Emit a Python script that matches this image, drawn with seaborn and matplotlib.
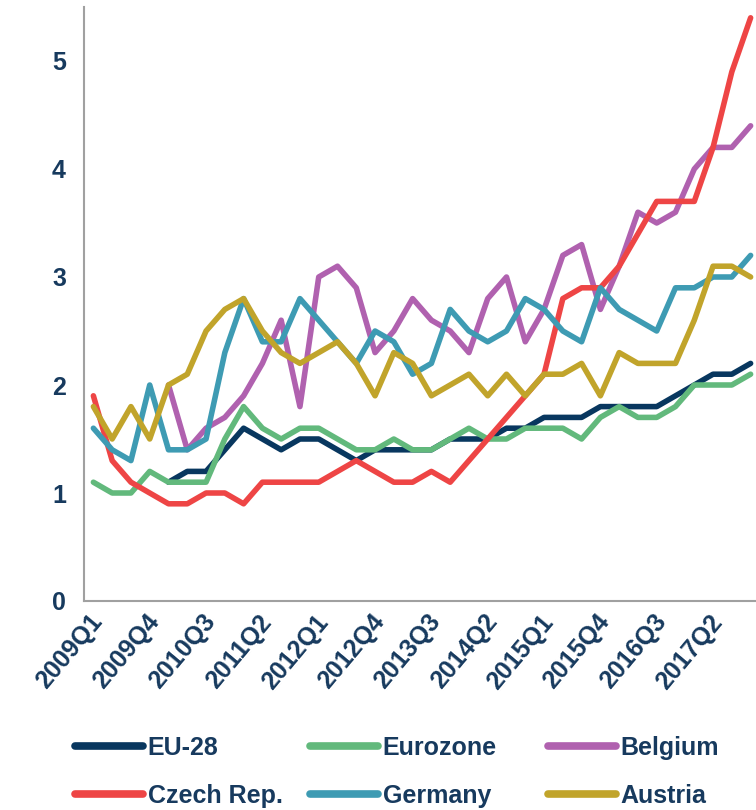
import matplotlib.pyplot as plt
import seaborn as sns
import numpy as np
import pandas as pd
from matplotlib.ticker import FixedLocator
import matplotlib.transforms as mtransforms

# quarters 2009Q1 .. 2017Q4
quarters = [f"{y}Q{q}" for y in range(2009, 2018) for q in range(1, 5)]

eu28 = [1.1, 1.2, 1.2, 1.4, 1.6, 1.5, 1.4, 1.5, 1.5, 1.4, 1.3, 1.4, 1.4, 1.4, 1.4, 1.5,
        1.5, 1.5, 1.6, 1.6, 1.7, 1.7, 1.7, 1.8, 1.8, 1.8, 1.8, 1.9, 2.0, 2.1, 2.1, 2.2]
eurozone = [1.1, 1.0, 1.0, 1.2, 1.1, 1.1, 1.1, 1.5, 1.8, 1.6, 1.5, 1.6, 1.6, 1.5, 1.4, 1.4,
            1.5, 1.4, 1.4, 1.5, 1.6, 1.5, 1.5, 1.6, 1.6, 1.6, 1.5, 1.7, 1.8, 1.7, 1.7, 1.8,
            2.0, 2.0, 2.0, 2.1]
belgium = [2.0, 1.4, 1.6, 1.7, 1.9, 2.2, 2.6, 1.8, 3.0, 3.1, 2.9, 2.3, 2.5, 2.8, 2.6, 2.5,
           2.3, 2.8, 3.0, 2.4, 2.7, 3.2, 3.3, 2.7, 3.1, 3.6, 3.5, 3.6, 4.0, 4.2, 4.2, 4.4]
czech = [1.9, 1.3, 1.1, 1.0, 0.9, 0.9, 1.0, 1.0, 0.9, 1.1, 1.1, 1.1, 1.1, 1.2, 1.3, 1.2,
         1.1, 1.1, 1.2, 1.1, 1.3, 1.5, 1.7, 1.9, 2.1, 2.8, 2.9, 2.9, 3.1, 3.4, 3.7, 3.7,
         3.7, 4.2, 4.9, 5.4]
germany = [1.6, 1.4, 1.3, 2.0, 1.4, 1.4, 1.5, 2.3, 2.8, 2.4, 2.4, 2.8, 2.6, 2.4, 2.2, 2.5,
           2.4, 2.1, 2.2, 2.7, 2.5, 2.4, 2.5, 2.8, 2.7, 2.5, 2.4, 2.9, 2.7, 2.6, 2.5, 2.9,
           2.9, 3.0, 3.0, 3.2]
austria = [1.8, 1.5, 1.8, 1.5, 2.0, 2.1, 2.5, 2.7, 2.8, 2.5, 2.3, 2.2, 2.3, 2.4, 2.2, 1.9,
           2.3, 2.2, 1.9, 2.0, 2.1, 1.9, 2.1, 1.9, 2.1, 2.1, 2.2, 1.9, 2.3, 2.2, 2.2, 2.2,
           2.6, 3.1, 3.1, 3.0]

series = {
    "EU-28": eu28,
    "Eurozone": eurozone,
    "Belgium": belgium,
    "Czech Rep.": czech,
    "Germany": germany,
    "Austria": austria,
}
colors = ["#08375F", "#62B97C", "#B061AF", "#EE4545", "#3E9BB3", "#C1A42B"]

n = len(quarters)
rows = []
for name, vals in series.items():
    start = n - len(vals)  # shorter series begin later
    for i, v in enumerate(vals):
        rows.append({"idx": start + i, "quarter": quarters[start + i], "value": v, "series": name})
df = pd.DataFrame(rows)

text_col = "#173A5E"
axis_col = "#A0A0A0"
fs = 18

sns.set_style("white")
plt.rcParams["font.family"] = ["Liberation Sans", "DejaVu Sans"]

fig = plt.figure(figsize=(7.56, 8.1), dpi=100)
ax = fig.add_axes([84 / 756, 1 - 601 / 810, 676 / 756, 594 / 810])

sns.lineplot(data=df, x="idx", y="value", hue="series", hue_order=list(series.keys()),
             palette=colors, linewidth=4, estimator=None, sort=False, ax=ax,
             solid_capstyle="round", solid_joinstyle="round")

ax.set_xlim(-0.5, n - 0.5)
ax.set_ylim(0, 5.5)
ax.set_xlabel("")
ax.set_ylabel("")

for s in ["top", "right"]:
    ax.spines[s].set_visible(False)
for s in ["left", "bottom"]:
    ax.spines[s].set_color(axis_col)
    ax.spines[s].set_linewidth(1.5)

ax.set_yticks(range(0, 6))
ax.tick_params(axis="y", length=8, width=1.3, color=axis_col, pad=5,
               labelsize=fs, labelcolor=text_col)

label_pos = list(range(0, n, 3))
ax.set_xticks(label_pos)
ax.set_xticklabels([quarters[i] for i in label_pos])
ax.xaxis.set_minor_locator(FixedLocator(np.arange(-0.5, n, 1.0)))
ax.tick_params(axis="x", which="major", length=0, pad=12, labelsize=fs, labelcolor=text_col)
ax.tick_params(axis="x", which="minor", length=7, width=1.3, color=axis_col)

offset = mtransforms.ScaledTranslation(5 / 100, 0, fig.dpi_scale_trans)
for lab in ax.get_xticklabels():
    lab.set_rotation(50)
    lab.set_ha("right")
    lab.set_va("center")
    lab.set_rotation_mode("anchor")
    lab.set_fontweight("bold")
    lab.set_transform(lab.get_transform() + offset)
for lab in ax.get_yticklabels():
    lab.set_fontweight("bold")

# legend laid out row-wise in three fixed columns
handles, labels = ax.get_legend_handles_labels()
ax.get_legend().remove()
for h in handles:
    h.set_linewidth(5.5)
col_x = [75, 310, 548]
for c in range(3):
    fig.legend([handles[c], handles[c + 3]], [labels[c], labels[c + 3]], ncol=1,
               loc="upper left", bbox_to_anchor=(col_x[c] / 756, 1 - 736 / 810),
               frameon=False, borderpad=0, borderaxespad=0, handlelength=2.7,
               handletextpad=0.2, labelspacing=0.95,
               prop={"size": fs, "weight": "bold"}, labelcolor=text_col)

fig.savefig("out.png", dpi=100)
